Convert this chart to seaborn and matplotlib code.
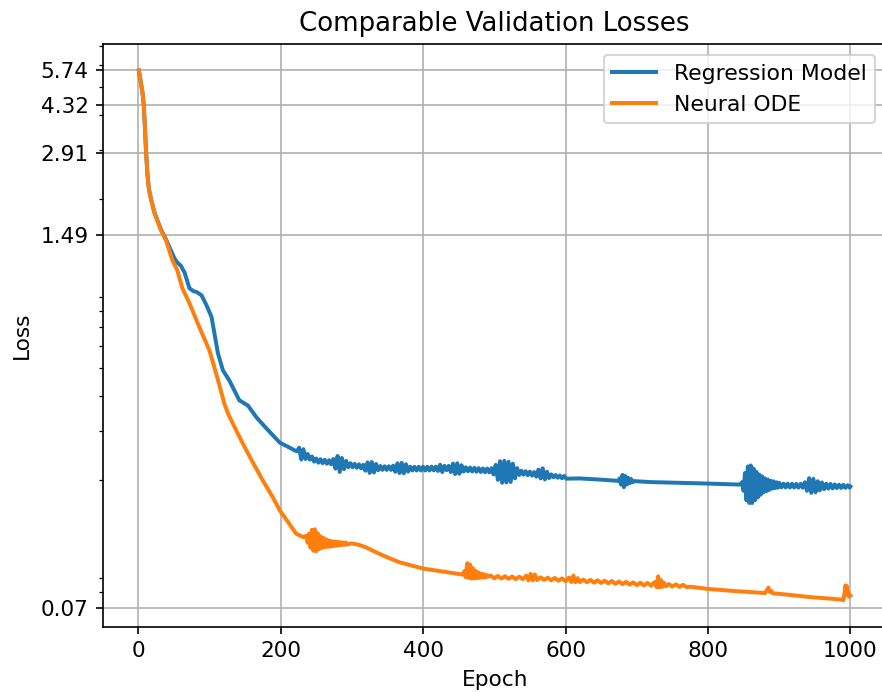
import numpy as np
import pandas as pd
import matplotlib
matplotlib.use("Agg")
import matplotlib.pyplot as plt
import seaborn as sns

# ---------------- Regression model validation loss ----------------
reg_head_epochs = [1, 4, 6, 8, 10, 11, 13, 15, 18, 23, 32, 39, 45, 51, 55, 58, 60, 63, 65, 72,
                   78, 82, 89, 96, 103, 107, 112, 119, 128, 142, 154, 166, 180, 199, 213, 219, 223]
reg_head_loss = [5.74, 5.15, 4.80, 4.30, 3.35, 2.98, 2.45, 2.18, 2.00, 1.79, 1.56, 1.44, 1.33, 1.23,
                 1.19, 1.17, 1.16, 1.12, 1.10, 0.964, 0.94, 0.935, 0.910, 0.838, 0.762, 0.667, 0.566,
                 0.492, 0.453, 0.385, 0.369, 0.335, 0.306, 0.272, 0.261, 0.256, 0.2535]

# noisy stretch, epochs 226..601 every 3 epochs
reg_mid_start, reg_mid_step = 226, 3
reg_mid_loss = [
    0.261, 0.237, 0.258, 0.238, 0.248, 0.237, 0.243, 0.233, 0.239, 0.231,
    0.2375, 0.230, 0.2365, 0.229, 0.2355, 0.228, 0.238, 0.220, 0.244, 0.214,
    0.240, 0.219, 0.2343, 0.2225, 0.230, 0.2226, 0.2289, 0.2216, 0.2279, 0.2206,
    0.2269, 0.2163, 0.2315, 0.2124, 0.2322, 0.2131, 0.2285, 0.2172, 0.2247, 0.2179,
    0.2243, 0.2177, 0.2243, 0.2177, 0.2254, 0.2144, 0.2298, 0.2122, 0.2307, 0.2118,
    0.2281, 0.2147, 0.2233, 0.2167, 0.2233, 0.2167, 0.2233, 0.2167, 0.2233, 0.2167,
    0.2233, 0.2167, 0.2236, 0.2170, 0.2236, 0.2159, 0.2271, 0.2139, 0.2249, 0.2172,
    0.2249, 0.2139, 0.2293, 0.2103, 0.2299, 0.2109, 0.2261, 0.2148, 0.2223, 0.2154,
    0.2218, 0.2149, 0.2213, 0.2145, 0.2208, 0.2140, 0.2203, 0.2135, 0.2200, 0.2134,
    0.2207, 0.2097, 0.2268, 0.2007, 0.2338, 0.1959, 0.2344, 0.1965, 0.2327, 0.1972,
    0.2290, 0.2031, 0.2210, 0.2089, 0.2162, 0.2094, 0.2154, 0.2086, 0.2146, 0.2078,
    0.2138, 0.2060, 0.2182, 0.2031, 0.2205, 0.2013, 0.2144, 0.2036, 0.2099, 0.2049,
    0.2087, 0.2041, 0.2079, 0.2033, 0.2071, 0.2026,
]

reg_tail_epochs = [620, 649, 674, 676, 678, 680, 682, 684, 686, 688, 690, 692, 694, 697, 719, 789, 845,
                   848, 850, 852, 854, 856, 858, 860, 862, 864, 866, 868, 870, 872, 874, 876, 878,
                   880, 882, 884, 886, 888, 890, 892, 894, 896, 898, 900,
                   903, 906, 909, 912, 915, 918, 921, 924, 927, 930, 933, 936, 939, 942, 945, 948,
                   951, 954, 957, 960, 963, 966, 969, 972, 975, 978, 981, 984, 987, 990, 993, 996,
                   999, 1000]
reg_tail_loss = [0.203, 0.201, 0.199, 0.203, 0.193, 0.209, 0.189, 0.207, 0.193, 0.204, 0.195, 0.202,
                 0.197, 0.1985, 0.197, 0.195, 0.193,
                 0.197, 0.1834, 0.2123, 0.1698, 0.2239, 0.166, 0.2258, 0.166, 0.220, 0.1698, 0.2142,
                 0.1737, 0.2094, 0.1776, 0.2065, 0.1810, 0.2031, 0.1829, 0.2012, 0.1848, 0.1992,
                 0.1867, 0.1982, 0.1876, 0.1967, 0.1881, 0.1957,
                 0.1887, 0.1945, 0.1886, 0.1944, 0.1885, 0.1943, 0.1884, 0.1942, 0.1883, 0.1941,
                 0.1882, 0.1967, 0.1834, 0.2034, 0.1804, 0.2023, 0.1813, 0.1984, 0.1841, 0.1964,
                 0.1859, 0.1944, 0.1868, 0.1940, 0.1871, 0.1933, 0.1875, 0.1928, 0.1877, 0.1925,
                 0.1879, 0.1920, 0.1882, 0.190]

# ---------------- Neural ODE validation loss ----------------
ode_head_epochs = [1, 4, 6, 8, 10, 11, 13, 15, 18, 23, 32, 39, 48, 55, 62, 72, 86, 100, 111, 121,
                   126, 133, 147, 157, 175, 189, 199, 222, 232]
ode_head_loss = [5.74, 5.15, 4.80, 4.30, 3.35, 2.98, 2.45, 2.18, 2.00, 1.78, 1.55, 1.43, 1.213, 1.117,
                 0.964, 0.853, 0.700, 0.580, 0.465, 0.375, 0.346, 0.318, 0.270, 0.2416, 0.1996,
                 0.174, 0.156, 0.129, 0.1255]

# first burst, epochs 236..294 every 2 epochs
ode_burst_start, ode_burst_step = 236, 2
ode_burst_loss = [0.1270, 0.1198, 0.1292, 0.1152, 0.1332, 0.1122, 0.1339, 0.1117, 0.1296, 0.1136,
                  0.1265, 0.1148, 0.1248, 0.1156, 0.1232, 0.1158, 0.1222, 0.1160, 0.1214, 0.1166,
                  0.1211, 0.1169, 0.1208, 0.1172, 0.1204, 0.1176, 0.1202, 0.1178, 0.1200, 0.1180]

ode_mid_epochs = [297, 301, 310, 320, 332, 344, 367, 400, 430, 456,
                  458, 460, 462, 464, 466, 468, 470, 472, 474, 476, 478, 480, 482, 484, 486, 488,
                  490, 492]
ode_mid_loss = [0.119, 0.119, 0.1178, 0.1154, 0.1115, 0.1079, 0.1021, 0.097, 0.0945, 0.0923,
                0.0950, 0.0904, 0.1014, 0.0899, 0.1003, 0.0893, 0.0973, 0.0895, 0.0952, 0.0896,
                0.0940, 0.0899, 0.0930, 0.0901, 0.0926, 0.0902, 0.0919, 0.0910]

ode_late_epochs = [495, 500, 505, 510, 515, 520, 525, 530, 535, 540, 545, 548, 551, 554, 557, 560,
                   565, 570, 575, 580, 585, 590, 595, 600, 605, 608, 611, 614, 617, 620, 625, 630,
                   635, 640, 645, 650, 655, 660, 665, 670, 675, 680, 685, 690, 695, 700, 705, 710,
                   715, 720, 725, 728, 730, 732, 734, 736, 738, 741, 745, 750, 755, 760, 765, 770,
                   775, 800, 840, 876, 880, 883, 885, 887, 889, 891, 895, 948, 970, 988, 990, 992,
                   993, 994, 995, 996, 997, 998, 1000]
ode_late_loss = [0.0916, 0.0896, 0.0913, 0.0894, 0.0911, 0.0892, 0.0909, 0.0890, 0.0908, 0.0889,
                 0.0916, 0.0880, 0.0929, 0.0880, 0.0924, 0.0883, 0.0903, 0.0884, 0.0900, 0.0881,
                 0.0898, 0.0878, 0.0895, 0.0875, 0.0901, 0.0869, 0.0916, 0.0867, 0.0897, 0.0869,
                 0.0886, 0.0867, 0.0884, 0.0864, 0.0881, 0.0862, 0.0878, 0.0859, 0.0876, 0.0856,
                 0.0873, 0.0854, 0.0870, 0.0850, 0.0866, 0.0847, 0.0864, 0.0845, 0.0862, 0.0843,
                 0.0868, 0.0833, 0.0910, 0.0832, 0.0883, 0.0835, 0.0865, 0.0839, 0.0855, 0.0837,
                 0.0852, 0.0835, 0.0849, 0.0833, 0.0836, 0.0821, 0.0806, 0.0795, 0.0793, 0.0815,
                 0.0830, 0.0800, 0.0808, 0.0792, 0.0791, 0.0766, 0.0759, 0.0752, 0.07485, 0.0800,
                 0.0845, 0.0790, 0.0840, 0.0780, 0.0800, 0.0770, 0.0777]


def regular(start, step, values):
    return [start + i * step for i in range(len(values))]


reg_epochs = (reg_head_epochs + regular(reg_mid_start, reg_mid_step, reg_mid_loss)
              + reg_tail_epochs)
reg_loss = reg_head_loss + reg_mid_loss + reg_tail_loss
ode_epochs = (ode_head_epochs + regular(ode_burst_start, ode_burst_step, ode_burst_loss)
              + ode_mid_epochs + ode_late_epochs)
ode_loss = ode_head_loss + ode_burst_loss + ode_mid_loss + ode_late_loss

df = pd.concat([
    pd.DataFrame({"Epoch": reg_epochs, "Loss": reg_loss, "model": "Regression Model"}),
    pd.DataFrame({"Epoch": ode_epochs, "Loss": ode_loss, "model": "Neural ODE"}),
], ignore_index=True)

plt.rcParams["font.size"] = 10.4

fig = plt.figure(figsize=(882 / 150, 692 / 150), dpi=150)
ax = fig.add_axes([103.3 / 882, (692 - 626.7) / 692, 782.7 / 882, 582.7 / 692])

for name, color in [("Regression Model", "C0"), ("Neural ODE", "C1")]:
    part = df[df["model"] == name]
    sns.lineplot(data=part, x="Epoch", y="Loss", ax=ax, color=color, label=name,
                 estimator=None, sort=False, linewidth=1.9)

ax.set_yscale("log")
lo, hi = min(reg_loss + ode_loss), max(reg_loss + ode_loss)
yt = np.round(np.linspace(lo, hi, 5), 2)
ax.set_yticks(yt, labels=[f"{t:.2f}" for t in yt])
ax.set_xticks([0, 200, 400, 600, 800, 1000])
ax.grid(True, which="major", color="#b0b0b0", linewidth=0.8)
ax.set_title("Comparable Validation Losses", fontsize=12.5)
ax.set_xlabel("Epoch")
ax.set_ylabel("Loss")
ax.legend(loc="upper right", fontsize=10.5)

fig.savefig("out.png", dpi=150)
